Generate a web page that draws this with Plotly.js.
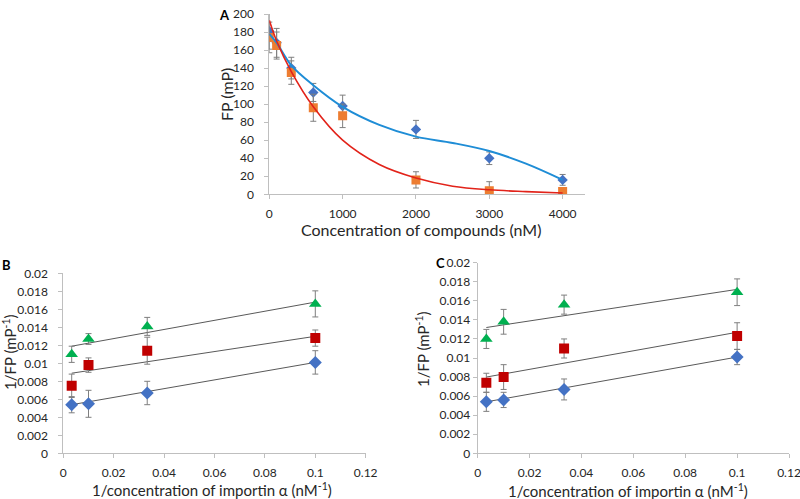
<!DOCTYPE html>
<html>
<head>
<meta charset="utf-8">
<script src="https://cdn.plot.ly/plotly-3.0.1.min.js"></script>
<style>
  html, body { margin: 0; padding: 0; background: #fff; }
  #chart { width: 800px; height: 499px; }
</style>
</head>
<body>
<div id="chart"></div>
<script>
// Panel A: FP vs compound concentration
const concA = [0, 100, 300, 600, 1000, 2000, 3000, 4000];
const fpBlue = [181, 168, 140, 113, 98, 72, 40, 16];
const errBlue = [20, 16, 12, 10, 12, 10, 7, 6];
const fpOrange = [174, 165, 135, 96, 87, 16, 4, 3];
const errOrange = [17, 15, 13, 15, 13, 9, 10, 4];

// trend lines
const fitX = [0, 100, 300, 600, 1000, 1500, 2000, 2500, 3000, 3500, 4000];
const fitBlue = [178, 168, 143, 121, 97, 77, 64, 57, 48, 34, 16];
const fitRed = [193, 170, 136, 97, 60, 33, 18, 9, 5, 3, 1.5];

// Panels B and C: 1/FP vs 1/importin
const invImp = [0.00333, 0.01, 0.0333, 0.1];
const fitEnds = [0.00333, 0.1];

const bGreen = [0.0110, 0.0127, 0.0141, 0.0166];
const bGreenErr = [0.0009, 0.0006, 0.0010, 0.00145];
const bRed = [0.0075, 0.0098, 0.0114, 0.0128];
const bRedErr = [0.0013, 0.0008, 0.0015, 0.0009];
const bBlue = [0.0054, 0.0055, 0.0067, 0.0101];
const bBlueErr = [0.0009, 0.0015, 0.0013, 0.0013];
const bGreenFit = [0.0119, 0.0168];
const bRedFit = [0.0089, 0.0130];
const bBlueFit = [0.0054, 0.0101];

const cGreen = [0.0120, 0.0138, 0.0156, 0.0169];
const cGreenErr = [0.0010, 0.0013, 0.0010, 0.0014];
const cRed = [0.0074, 0.0080, 0.0110, 0.0123];
const cRedErr = [0.0010, 0.0013, 0.0010, 0.0014];
const cBlue = [0.0054, 0.0056, 0.0067, 0.0101];
const cBlueErr = [0.0010, 0.0008, 0.0011, 0.0008];
const cGreenFit = [0.0132, 0.0172];
const cRedFit = [0.0080, 0.0127];
const cBlueFit = [0.0054, 0.0101];

const W = 800, H = 499;
const px = (x) => x / W;
const py = (y) => 1 - y / H;

const errStyle = (arr) => ({ type: 'data', array: arr, color: '#7F7F7F', thickness: 1, width: 3 });

function pts(x, y, err, symbol, color, size, xa, ya) {
  return { x, y, xaxis: xa, yaxis: ya, type: 'scatter', mode: 'markers',
    marker: { symbol, color, size }, error_y: errStyle(err), hoverinfo: 'x+y' };
}
function line(x, y, color, width, xa, ya, shape) {
  return { x, y, xaxis: xa, yaxis: ya, type: 'scatter', mode: 'lines',
    line: { color, width, shape: shape || 'linear', smoothing: 1 }, hoverinfo: 'skip' };
}

const data = [
  pts(concA, fpBlue, errBlue, 'diamond', '#4472C4', 8, 'x', 'y'),
  pts(concA, fpOrange, errOrange, 'square', '#ED7D31', 9, 'x', 'y'),
  line(fitX, fitBlue, '#1F8DD6', 2, 'x', 'y', 'spline'),
  line(fitX, fitRed, '#E2231A', 1.6, 'x', 'y', 'spline'),

  line(fitEnds, bGreenFit, '#595959', 1, 'x2', 'y2'),
  line(fitEnds, bRedFit, '#595959', 1, 'x2', 'y2'),
  line(fitEnds, bBlueFit, '#595959', 1, 'x2', 'y2'),
  pts(invImp, bGreen, bGreenErr, 'triangle-up', '#00B050', 11, 'x2', 'y2'),
  pts(invImp, bRed, bRedErr, 'square', '#C00000', 10, 'x2', 'y2'),
  pts(invImp, bBlue, bBlueErr, 'diamond', '#4472C4', 10, 'x2', 'y2'),

  line(fitEnds, cGreenFit, '#595959', 1, 'x3', 'y3'),
  line(fitEnds, cRedFit, '#595959', 1, 'x3', 'y3'),
  line(fitEnds, cBlueFit, '#595959', 1, 'x3', 'y3'),
  pts(invImp, cGreen, cGreenErr, 'triangle-up', '#00B050', 11, 'x3', 'y3'),
  pts(invImp, cRed, cRedErr, 'square', '#C00000', 10, 'x3', 'y3'),
  pts(invImp, cBlue, cBlueErr, 'diamond', '#4472C4', 10, 'x3', 'y3'),
];

const axBase = {
  showline: true, linecolor: '#BFBFBF', linewidth: 1,
  ticks: 'outside', ticklen: 4, tickcolor: '#BFBFBF',
  showgrid: false, zeroline: false, fixedrange: true,
  ticklabeloverflow: 'allow',
  tickfont: { family: 'Lato, sans-serif', size: 12, color: '#262626' },
};

const titleFont = { family: 'Lato, sans-serif', size: 15, color: '#262626' };
function note(text, x, y, opts) {
  return Object.assign({ text, x: px(x), y: py(y), xref: 'paper', yref: 'paper',
    showarrow: false, xanchor: 'center', yanchor: 'middle', font: titleFont }, opts || {});
}
const letterFont = { family: 'Lato, sans-serif', size: 13, color: '#000' };

const layout = {
  width: W, height: H,
  margin: { l: 0, r: 0, t: 0, b: 0 },
  paper_bgcolor: '#fff', plot_bgcolor: '#fff',
  showlegend: false,
  xaxis: Object.assign({}, axBase, { domain: [px(269.3), px(585)], range: [0, 4305],
    tickvals: [0, 1000, 2000, 3000, 4000], anchor: 'y', ticklabelstandoff: 4 }),
  yaxis: Object.assign({}, axBase, { domain: [py(194.3), py(14)], range: [0, 200],
    dtick: 20, anchor: 'x', ticklabelstandoff: 8 }),
  xaxis2: Object.assign({}, axBase, { domain: [px(63.3), px(365.7)], range: [0, 0.12],
    dtick: 0.02, anchor: 'y2', ticklabelstandoff: 4 }),
  yaxis2: Object.assign({}, axBase, { domain: [py(453.3), py(273.3)], range: [0, 0.02],
    dtick: 0.002, anchor: 'x2', ticklabelstandoff: 8 }),
  xaxis3: Object.assign({}, axBase, { domain: [px(477.7), px(789)], range: [0, 0.12],
    dtick: 0.02, anchor: 'y3', ticklabelstandoff: 4 }),
  yaxis3: Object.assign({}, axBase, { domain: [py(453.3), py(262.7)], range: [0, 0.02],
    dtick: 0.002, anchor: 'x3', ticklabelstandoff: 0 }),
  annotations: [
    note('Concentration of compounds (nM)', 421, 229, { font: Object.assign({}, titleFont, { size: 16 }) }),
    note('FP (mP)', 227, 95, { textangle: -90, font: Object.assign({}, titleFont, { size: 16 }) }),
    note('1/concentration of importin α (nM<sup>-1</sup>)', 212, 489),
    note('1/FP (mP<sup>-1</sup>)', 9, 352, { textangle: -90 }),
    note('1/concentration of importin α (nM<sup>-1</sup>)', 628, 490),
    note('1/FP (mP<sup>-1</sup>)', 422, 349, { textangle: -90 }),
    note('<b>A</b>', 224, 15, { font: letterFont }),
    note('<b>B</b>', 6, 265, { font: letterFont }),
    note('<b>C</b>', 440, 263, { font: letterFont }),
  ],
};

Plotly.newPlot('chart', data, layout, { displayModeBar: false, staticPlot: true });
</script>
</body>
</html>
